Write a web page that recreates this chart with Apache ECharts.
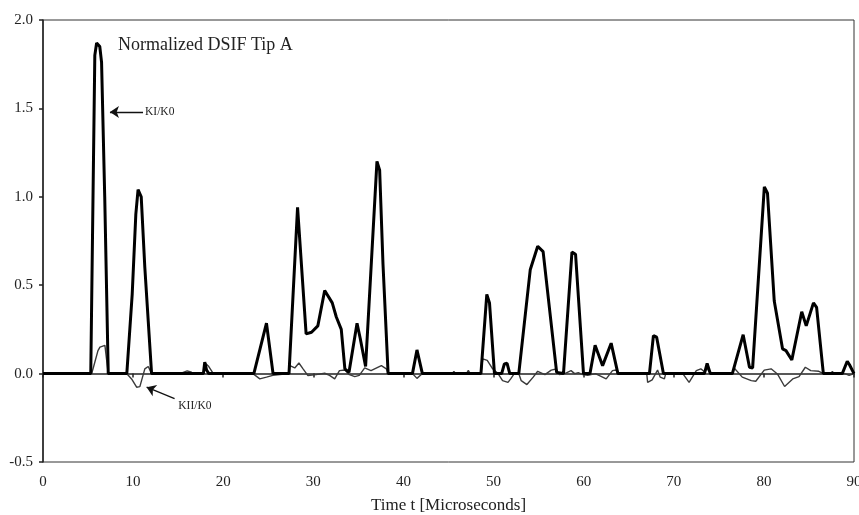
<!DOCTYPE html>
<html>
<head>
<meta charset="utf-8">
<script src="https://cdn.jsdelivr.net/npm/echarts@6/dist/echarts.min.js"></script>
<style>
  html, body { margin: 0; padding: 0; background: #fff; }
  #container { width: 859px; height: 515px; }
</style>
</head>
<body>
<div id="container"></div>
<script>
// K_I / K_0 (thick line): time in microseconds, normalized value
var k1Time = [0, 5.3, 5.75, 5.95, 6.15, 6.3, 6.5, 6.85, 7.24, 9.3, 9.9, 10.3, 10.55, 10.9, 11.3, 12.05,
  17.8, 17.95, 18.15, 18.4, 23.4, 24.8, 25.53, 27.3, 28.25, 29.2, 29.8, 30.5, 31.26, 32.1, 32.55, 33.1,
  33.5, 33.96, 34.85, 35.2, 35.8, 37.06, 37.36, 37.73, 38.3, 41.0, 41.5, 42.1, 48.6, 49.25, 49.55, 50.1,
  50.9, 51.2, 51.5, 51.8, 52.8, 54.07, 54.9, 55.5, 57.0, 57.76, 58.7, 59.1, 59.98, 60.7, 61.27, 62.1,
  63.05, 63.8, 67.3, 67.74, 68.1, 68.85, 73.4, 73.7, 74.06, 76.5, 77.7, 78.4, 78.75, 80.05, 80.4, 81.15,
  82.07, 82.45, 83.1, 84.2, 84.7, 85.5, 85.85, 86.6, 88.7, 89.25, 89.5, 90];
var k1Value = [0, 0, 1.80, 1.87, 1.87, 1.85, 1.76, 1.0, 0, 0, 0.45, 0.9, 1.04, 1.0, 0.6, 0,
  0, 0.065, 0.02, 0, 0, 0.285, 0, 0, 0.94, 0.225, 0.234, 0.27, 0.47, 0.40, 0.32, 0.25,
  0.027, 0.007, 0.285, 0.2, 0.04, 1.20, 1.15, 0.62, 0, 0, 0.134, 0, 0, 0.448, 0.40, 0,
  0, 0.055, 0.058, 0, 0, 0.587, 0.72, 0.69, 0.007, 0, 0.687, 0.675, 0, 0, 0.16, 0.045,
  0.172, 0, 0, 0.215, 0.206, 0, 0, 0.058, 0, 0, 0.22, 0.036, 0.032, 1.056, 1.02, 0.41,
  0.14, 0.13, 0.077, 0.35, 0.27, 0.4, 0.375, 0, 0, 0.07, 0.05, 0];

// K_II / K_0 (thin line)
var k2Time = [0, 5.4, 5.6, 6.1, 6.32, 6.87, 7.24, 9.28, 9.83, 10.39, 10.75, 11.3, 11.68, 12.05,
  15.2, 16.0, 16.4, 16.7, 17.8, 18.0, 18.4, 18.9, 23.3, 24.06, 24.8, 25.5, 25.6, 27.3, 27.4, 27.94,
  28.4, 28.86, 29.4, 30.3, 31.26, 31.8, 32.37, 32.9, 33.5, 34.0, 34.6, 35.1, 35.7, 36.4, 37.55, 38.1,
  38.3, 41.0, 41.5, 42.1, 45.4, 45.6, 45.8, 47.0, 47.2, 47.4, 48.6, 48.8, 49.3, 49.9, 50.5, 51.0,
  51.6, 51.9, 52.3, 52.8, 53.07, 53.7, 54.4, 54.9, 55.7, 56.4, 56.95, 57.3, 57.9, 58.6, 59.0, 59.4,
  59.9, 60.45, 61.3, 62.1, 62.5, 63.2, 63.6, 64.0, 67.0, 67.1, 67.6, 68.2, 68.5, 68.96, 69.1, 71.0,
  71.7, 72.5, 73.0, 73.4, 73.7, 74.06, 76.5, 76.7, 77.6, 78.6, 79.1, 80.04, 80.8, 81.5, 82.3, 83.2,
  83.9, 84.6, 85.2, 86.1, 86.6, 87.4, 87.6, 87.8, 89.0, 89.46, 90];
var k2Value = [0, 0, 0.036, 0.13, 0.15, 0.16, 0, 0, -0.03, -0.077, -0.074, 0.027, 0.04, 0,
  0, 0.015, 0.01, 0, 0, 0.06, 0.04, 0, 0, -0.03, -0.02, -0.01, 0, 0, 0.045, 0.032,
  0.06, 0.027, -0.011, -0.006, 0.002, -0.01, -0.03, 0.017, 0.02, -0.006, -0.017, -0.01, 0.032, 0.017, 0.045, 0.027,
  0, 0, -0.027, 0, 0, 0.012, 0, 0, 0.018, 0, 0, 0.083, 0.075, 0.027, 0, -0.04,
  -0.05, -0.03, 0, 0, -0.04, -0.062, -0.02, 0.013, -0.006, 0.02, 0.026, -0.006, 0, 0.017, 0, 0.005,
  -0.006, -0.01, 0, -0.02, -0.03, 0.017, 0.02, 0, 0, -0.05, -0.035, 0.02, -0.02, -0.03, 0, 0,
  -0.05, 0.017, 0.027, 0.01, 0.03, 0, 0, 0.032, -0.02, -0.04, -0.043, 0.02, 0.027, -0.002, -0.073, -0.03,
  -0.017, 0.036, 0.017, 0.013, 0, 0, 0.012, 0, 0, -0.01, 0];

// annotation arrows: [tail, head] in data coordinates
var k1Arrow = [[11.1, 1.479], [7.43, 1.479]];
var k2Arrow = [[14.6, -0.142], [11.5, -0.077]];

var xTicks = [0, 90, 10];
var yTicks = [-0.5, 2.0, 0.5];

function zip(t, v) {
  var out = [];
  for (var i = 0; i < t.length; i++) out.push([t[i], v[i]]);
  return out;
}

var serif = "'Liberation Serif', 'Times New Roman', serif";
var myChart = echarts.init(document.getElementById('container'));

var option = {
  animation: false,
  backgroundColor: '#fff',
  title: {
    text: 'Normalized DSIF Tip A',
    left: 113,
    top: 31,
    textStyle: { fontFamily: serif, fontSize: 18, fontWeight: 'normal', color: '#222' }
  },
  grid: {
    left: 43, right: 5, top: 20, bottom: 53,
    outerBoundsMode: 'none',
    containLabel: false,
    show: true, borderColor: '#333', borderWidth: 1
  },
  xAxis: {
    type: 'value',
    min: xTicks[0], max: xTicks[1], interval: xTicks[2],
    name: 'Time t [Microseconds]',
    nameLocation: 'middle',
    nameGap: 35,
    nameTextStyle: { fontFamily: serif, fontSize: 17, color: '#222' },
    axisLine: { lineStyle: { color: '#222', width: 1.5 } },
    axisTick: { length: 4, lineStyle: { color: '#222', width: 1.5 } },
    axisLabel: { fontFamily: serif, fontSize: 15, color: '#222', margin: 13 },
    splitLine: { show: false }
  },
  yAxis: {
    type: 'value',
    min: yTicks[0], max: yTicks[1], interval: yTicks[2],
    axisLine: { show: true, lineStyle: { color: '#222', width: 1.5 } },
    axisTick: { show: true, length: 4, lineStyle: { color: '#222', width: 1.5 } },
    axisLabel: {
      fontFamily: serif, fontSize: 15, color: '#222', margin: 10,
      formatter: function (v) { return v.toFixed(1); }
    },
    splitLine: { show: false }
  },
  series: [
    {
      name: 'KII/K0',
      type: 'line',
      data: zip(k2Time, k2Value),
      showSymbol: false,
      lineStyle: { color: '#3a3a3a', width: 1.4 },
      markLine: {
        silent: true,
        symbol: ['none', 'arrow'],
        symbolSize: 9,
        lineStyle: { color: '#111', width: 1.3, type: 'solid' },
        label: {
          show: true, position: 'start', formatter: 'KII/K0',
          fontFamily: serif, fontSize: 11.5, color: '#222', distance: [4, 20]
        },
        data: [[{ coord: k2Arrow[0] }, { coord: k2Arrow[1] }]]
      }
    },
    {
      name: 'KI/K0',
      type: 'line',
      data: zip(k1Time, k1Value),
      showSymbol: false,
      lineStyle: { color: '#000', width: 3 },
      markLine: {
        silent: true,
        symbol: ['none', 'arrow'],
        symbolSize: 9,
        lineStyle: { color: '#111', width: 1.3, type: 'solid' },
        label: {
          show: true, position: 'start', formatter: 'KI/K0',
          fontFamily: serif, fontSize: 11.5, color: '#222', distance: 2
        },
        data: [[{ coord: k1Arrow[0] }, { coord: k1Arrow[1] }]]
      }
    }
  ]
};
myChart.setOption(option);
</script>
</body>
</html>
